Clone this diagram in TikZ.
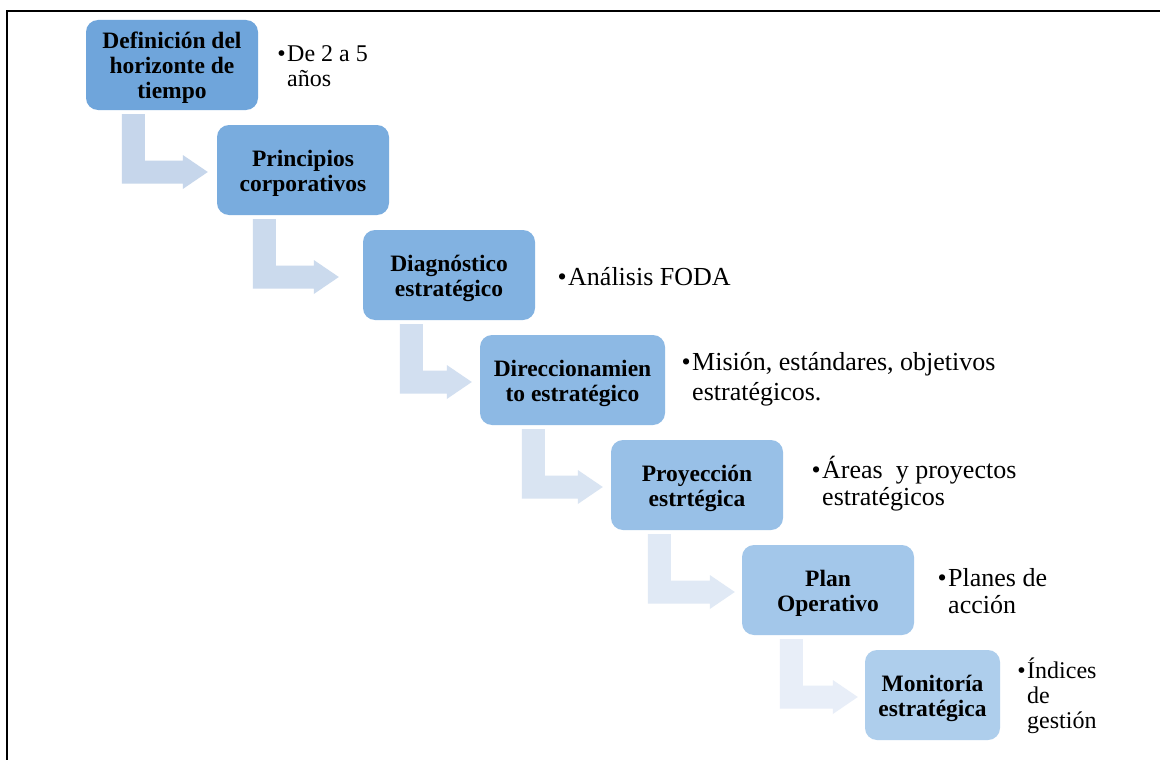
\documentclass[tikz,border=0pt]{standalone}
\usepackage{fontspec}
\setmainfont{Liberation Serif}
\usetikzlibrary{calc}
\definecolor{bc1}{RGB}{111,165,219}
\definecolor{bc2}{RGB}{121,172,222}
\definecolor{bc3}{RGB}{130,178,225}
\definecolor{bc4}{RGB}{141,185,228}
\definecolor{bc5}{RGB}{152,192,231}
\definecolor{bc6}{RGB}{163,199,234}
\definecolor{bc7}{RGB}{174,206,236}
\definecolor{ac1}{RGB}{198,214,235}
\definecolor{ac2}{RGB}{203,218,237}
\definecolor{ac3}{RGB}{210,223,240}
\definecolor{ac4}{RGB}{217,228,242}
\definecolor{ac5}{RGB}{224,233,245}
\definecolor{ac6}{RGB}{232,238,248}
\tikzset{
  stagebox/.style={rounded corners=12pt, inner sep=0pt, align=center,
    minimum height=90pt, font=\fontsize{23.5}{25}\selectfont\bfseries},
  bullettext/.style={anchor=north west, inner sep=0pt, align=left,
    font=\fontsize{26}{27}\selectfont},
  smallbullet/.style={anchor=north west, inner sep=0pt, align=left,
    font=\fontsize{24}{25}\selectfont},
}
% #1 from, #2 to, #3 colour, #4 bar offset from left of source, #5 gap between tip and target
\newcommand{\bentarrow}[5]{%
  \fill[#3] let \p1=(#1.south west), \p2=(#2.west) in
    (\x1+#4pt,\y1-4pt) -- (\x1+#4pt+23pt,\y1-4pt) -- (\x1+#4pt+23pt,\y2-2pt+11.5pt)
    -- (\x2-#5pt-25pt,\y2-2pt+11.5pt) -- (\x2-#5pt-25pt,\y2-2pt+17pt) -- (\x2-#5pt,\y2-2pt)
    -- (\x2-#5pt-25pt,\y2-2pt-17pt) -- (\x2-#5pt-25pt,\y2-2pt-11.5pt) -- (\x1+#4pt,\y2-2pt-11.5pt) -- cycle;}
\newcommand{\bul}{\rule{0pt}{24pt}\llap{\textbullet\hspace{1.5pt}}}
\newcommand{\tp}{\rule{0pt}{23pt}}
\begin{document}
\begin{tikzpicture}[x=1pt,y=-1pt]
\useasboundingbox (0,0) rectangle (1160,760);
\fill[white] (0,0) rectangle (1160,760);
\draw[line width=2.2pt] (7,760) -- (7,11) -- (1160,11);

\node[stagebox, fill=bc1, minimum width=172pt] (b1) at (172,65) {\tp Definición del\\horizonte de\\tiempo};
\node[stagebox, fill=bc2, minimum width=172pt] (b2) at (303,170) {\tp Principios\\corporativos};
\node[stagebox, fill=bc3, minimum width=172pt] (b3) at (449,275) {\tp Diagnóstico\\estratégico};
\node[stagebox, fill=bc4, minimum width=185pt] (b4) at (572.5,380) {\tp Direccionamien\\to estratégico};
\node[stagebox, fill=bc5, minimum width=172pt] (b5) at (697,485) {\tp Proyección\\estrtégica};
\node[stagebox, fill=bc6, minimum width=172pt] (b6) at (828,590) {\tp Plan\\Operativo};
\node[stagebox, fill=bc7, minimum width=135pt] (b7) at (932.5,695) {\tp Monitoría\\estratégica};

\bentarrow{b1}{b2}{ac1}{36}{9}
\bentarrow{b2}{b3}{ac2}{36}{24}
\bentarrow{b3}{b4}{ac3}{37}{8}
\bentarrow{b4}{b5}{ac4}{42}{8}
\bentarrow{b5}{b6}{ac5}{37}{7}
\bentarrow{b6}{b7}{ac6}{38}{7}

\node[smallbullet] (t1) at (287,37) {\bul De 2 a 5\\años};
\node[bullettext] (t3) at (568,261.5) {\bul Análisis FODA};
\node[bullettext] (t4) at (692,346.5) {\bul Misión, estándares, objetivos\\[3pt]estratégicos.};
\node[bullettext] (t5) at (822,454.5) {\bul Áreas\ \ y proyectos\\estratégicos};
\node[bullettext] (t6) at (948,562) {\bul Planes de\\acción};
\node[smallbullet] (t7) at (1027,654) {\bul Índices\\de\\gestión};
\end{tikzpicture}
\end{document}
